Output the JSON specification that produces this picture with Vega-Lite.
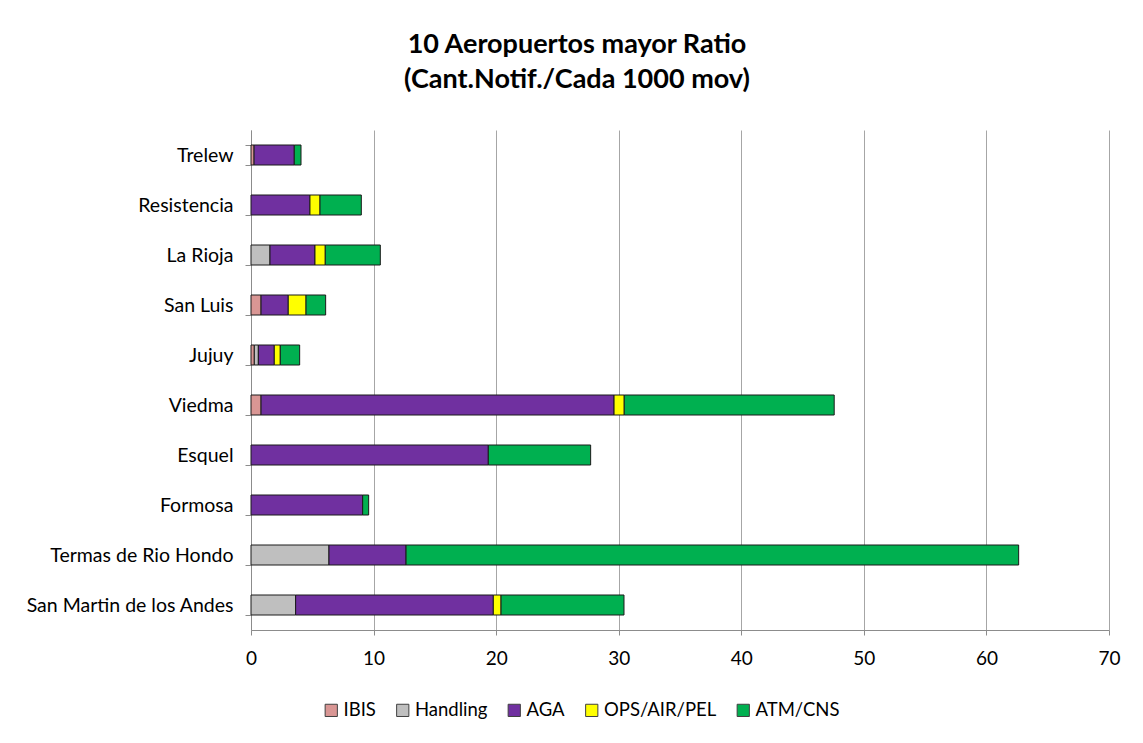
{
  "$schema": "https://vega.github.io/schema/vega-lite/v6.json",
  "width": 858,
  "height": 500,
  "autosize": {"type": "none"},
  "padding": {"left": 251, "top": 130, "right": 34, "bottom": 113},
  "background": "white",
  "title": {
    "text": ["10 Aeropuertos mayor Ratio", "(Cant.Notif./Cada 1000 mov)"],
    "font": "Lato",
    "fontSize": 27,
    "fontWeight": "bold",
    "color": "#000000",
    "anchor": "middle",
    "dx": -103,
    "offset": 26,
    "lineHeight": 35
  },
  "data": {
    "values": [
      {"aeropuerto": "Trelew", "categoria": "IBIS", "valor": 0.25},
      {"aeropuerto": "Trelew", "categoria": "AGA", "valor": 3.28},
      {"aeropuerto": "Trelew", "categoria": "ATM/CNS", "valor": 0.55},
      {"aeropuerto": "Resistencia", "categoria": "AGA", "valor": 4.81},
      {"aeropuerto": "Resistencia", "categoria": "OPS/AIR/PEL", "valor": 0.82},
      {"aeropuerto": "Resistencia", "categoria": "ATM/CNS", "valor": 3.37},
      {"aeropuerto": "La Rioja", "categoria": "Handling", "valor": 1.55},
      {"aeropuerto": "La Rioja", "categoria": "AGA", "valor": 3.67},
      {"aeropuerto": "La Rioja", "categoria": "OPS/AIR/PEL", "valor": 0.84},
      {"aeropuerto": "La Rioja", "categoria": "ATM/CNS", "valor": 4.49},
      {"aeropuerto": "San Luis", "categoria": "IBIS", "valor": 0.82},
      {"aeropuerto": "San Luis", "categoria": "AGA", "valor": 2.22},
      {"aeropuerto": "San Luis", "categoria": "OPS/AIR/PEL", "valor": 1.45},
      {"aeropuerto": "San Luis", "categoria": "ATM/CNS", "valor": 1.6},
      {"aeropuerto": "Jujuy", "categoria": "IBIS", "valor": 0.27},
      {"aeropuerto": "Jujuy", "categoria": "Handling", "valor": 0.33},
      {"aeropuerto": "Jujuy", "categoria": "AGA", "valor": 1.3},
      {"aeropuerto": "Jujuy", "categoria": "OPS/AIR/PEL", "valor": 0.49},
      {"aeropuerto": "Jujuy", "categoria": "ATM/CNS", "valor": 1.58},
      {"aeropuerto": "Viedma", "categoria": "IBIS", "valor": 0.82},
      {"aeropuerto": "Viedma", "categoria": "AGA", "valor": 28.8},
      {"aeropuerto": "Viedma", "categoria": "OPS/AIR/PEL", "valor": 0.83},
      {"aeropuerto": "Viedma", "categoria": "ATM/CNS", "valor": 17.13},
      {"aeropuerto": "Esquel", "categoria": "AGA", "valor": 19.36},
      {"aeropuerto": "Esquel", "categoria": "ATM/CNS", "valor": 8.35},
      {"aeropuerto": "Formosa", "categoria": "AGA", "valor": 9.11},
      {"aeropuerto": "Formosa", "categoria": "ATM/CNS", "valor": 0.49},
      {"aeropuerto": "Termas de Rio Hondo", "categoria": "Handling", "valor": 6.36},
      {"aeropuerto": "Termas de Rio Hondo", "categoria": "AGA", "valor": 6.29},
      {"aeropuerto": "Termas de Rio Hondo", "categoria": "ATM/CNS", "valor": 49.98},
      {"aeropuerto": "San Martin de los Andes", "categoria": "Handling", "valor": 3.64},
      {"aeropuerto": "San Martin de los Andes", "categoria": "AGA", "valor": 16.13},
      {"aeropuerto": "San Martin de los Andes", "categoria": "OPS/AIR/PEL", "valor": 0.63},
      {"aeropuerto": "San Martin de los Andes", "categoria": "ATM/CNS", "valor": 10.03}
    ]
  },
  "transform": [
    {"window": [{"op": "row_number", "as": "posicion"}], "groupby": ["aeropuerto"]}
  ],
  "mark": {"type": "bar", "stroke": "#1a1a1a", "strokeWidth": 1},
  "encoding": {
    "y": {
      "field": "aeropuerto",
      "type": "nominal",
      "sort": ["Trelew", "Resistencia", "La Rioja", "San Luis", "Jujuy", "Viedma", "Esquel", "Formosa", "Termas de Rio Hondo", "San Martin de los Andes"],
      "scale": {"paddingInner": 0.6, "paddingOuter": 0.3},
      "axis": {
        "title": null,
        "tickBand": "extent",
        "grid": false,
        "domainColor": "#8c8c8c",
        "tickColor": "#8c8c8c",
        "tickSize": 6,
        "labelFont": "Lato",
        "labelFontSize": 19.5,
        "labelColor": "#000000",
        "labelPadding": 12,
        "labelLimit": 400
      }
    },
    "x": {
      "field": "valor",
      "type": "quantitative",
      "stack": "zero",
      "scale": {"domain": [0, 70], "nice": false},
      "axis": {
        "title": null,
        "values": [0, 10, 20, 30, 40, 50, 60, 70],
        "grid": true,
        "gridColor": "#a6a6a6",
        "gridWidth": 1,
        "domainColor": "#8c8c8c",
        "tickColor": "#8c8c8c",
        "tickSize": 5,
        "labelFlush": false,
        "labelFont": "Lato",
        "labelFontSize": 19,
        "labelColor": "#000000",
        "labelPadding": 14
      }
    },
    "color": {
      "field": "categoria",
      "type": "nominal",
      "sort": ["IBIS", "Handling", "AGA", "OPS/AIR/PEL", "ATM/CNS"],
      "scale": {
        "domain": ["IBIS", "Handling", "AGA", "OPS/AIR/PEL", "ATM/CNS"],
        "range": ["#d99694", "#bfbfbf", "#7030a0", "#ffff00", "#00b050"]
      },
      "legend": {
        "title": null,
        "orient": "none",
        "direction": "horizontal",
        "legendX": 71,
        "legendY": 571,
        "symbolType": "square",
        "symbolSize": 150,
        "symbolStrokeColor": "#404040",
        "symbolStrokeWidth": 1,
        "symbolOpacity": 1,
        "labelFont": "Lato",
        "labelFontSize": 18.5,
        "labelColor": "#000000",
        "columnPadding": 17.5,
        "labelOffset": 3
      }
    },
    "order": {"field": "posicion", "type": "quantitative"}
  },
  "config": {"view": {"stroke": null}}
}
